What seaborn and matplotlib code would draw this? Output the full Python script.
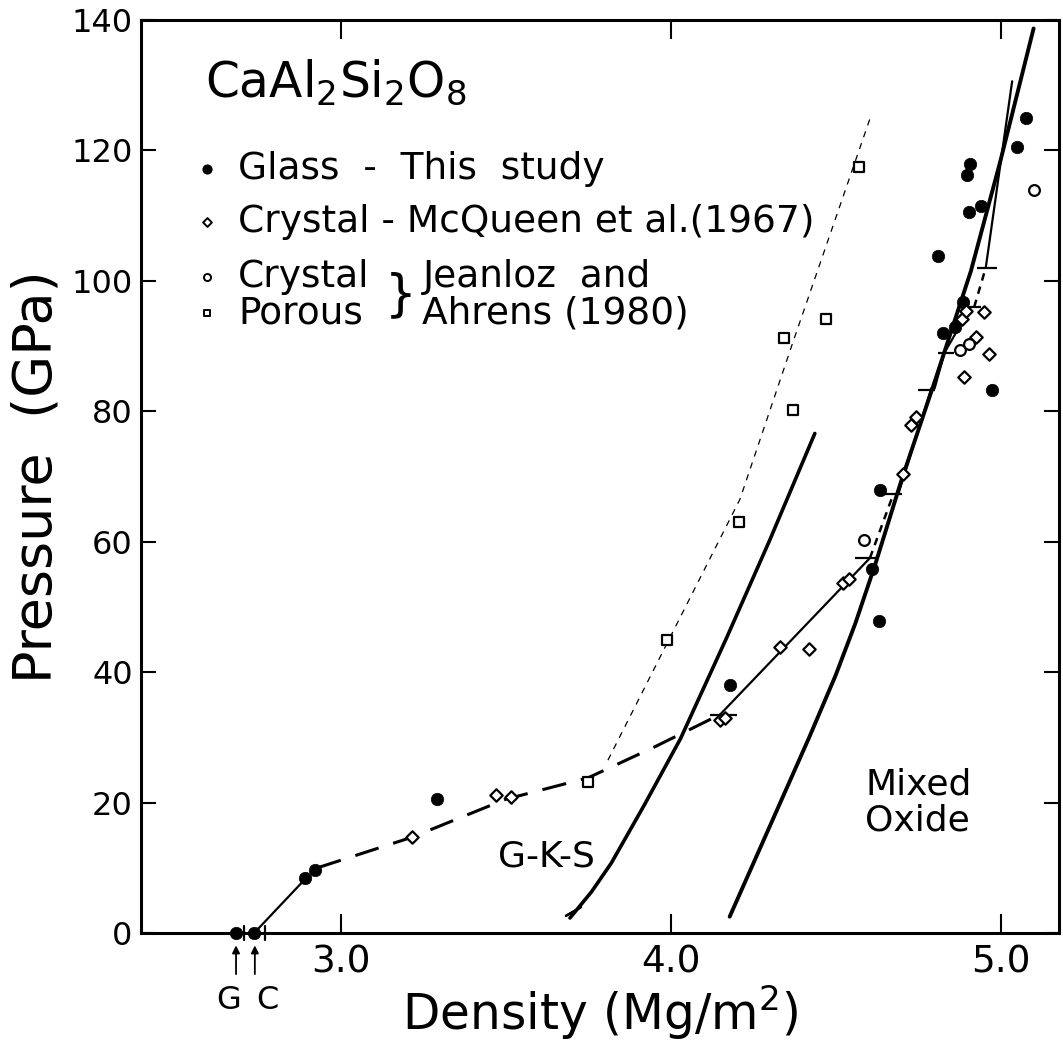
import numpy as np
import pandas as pd
import matplotlib
matplotlib.use("Agg")
import matplotlib.pyplot as plt
import seaborn as sns

# ---------------- data ----------------
glass_x = [2.683, 2.738, 2.893, 2.922, 3.291, 4.179, 4.609, 4.632, 4.634, 4.811,
           4.824, 4.861, 4.887, 4.897, 4.905, 4.907, 4.942, 4.973, 5.050, 5.077]
glass_p = [0.0, 0.0, 8.4, 9.6, 20.5, 38.1, 55.8, 47.8, 67.9, 103.8,
           92.0, 92.9, 96.7, 116.2, 110.6, 117.9, 111.5, 83.2, 120.6, 125.0]

mcq_x = [3.217, 3.472, 3.517, 4.149, 4.165, 4.333, 4.419, 4.523, 4.541, 4.705,
         4.728, 4.743, 4.884, 4.894, 4.950, 4.924, 4.964, 4.890]
mcq_p = [14.7, 21.1, 20.9, 32.7, 32.9, 43.8, 43.6, 53.7, 54.3, 70.4,
         77.9, 79.1, 94.2, 95.4, 95.3, 91.4, 88.8, 85.2]

ja_cryst_x = [4.587, 4.877, 4.905, 5.102]
ja_cryst_p = [60.3, 89.4, 90.3, 113.9]

porous_x = [3.749, 3.990, 4.208, 4.343, 4.372, 4.471, 4.570]
porous_p = [23.2, 45.0, 63.0, 91.2, 80.2, 94.1, 117.5]

# fitted / model curves
gks_x = [3.695, 3.76, 3.82, 3.92, 4.03, 4.17, 4.30, 4.437]
gks_p = [2.3, 6.3, 10.7, 19.6, 29.8, 45.3, 60.2, 76.6]

mixed_x = [4.179, 4.30, 4.42, 4.50, 4.56, 4.62, 4.70, 4.80, 4.91, 5.00, 5.10]
mixed_p = [2.5, 16.3, 30.0, 39.5, 47.5, 56.5, 69.5, 84.5, 101.5, 118.5, 138.7]

porous_line_x = [3.81, 4.04, 4.21, 4.37, 4.607]
porous_line_p = [26.5, 49.5, 66.5, 90.5, 125.3]

# crystal Hugoniot pieces
cr_low_x = [2.738, 2.893]
cr_low_p = [0.0, 8.3]
cr_dash_x = [2.93, 3.217, 3.50, 3.75, 3.95, 4.15]
cr_dash_p = [10.0, 14.7, 20.5, 23.8, 28.5, 33.5]
cr_solid_segments = [([4.15, 4.604], [33.5, 57.5]),
                     ([4.69, 4.79], [67.3, 83.5]),
                     ([4.80, 4.83], [83.5, 89.0]),
                     ([4.83, 4.91], [89.0, 96.0]),
                     ([4.955, 5.035], [102.0, 130.6])]
cr_dashed_segments = [([4.604, 4.675], [57.5, 67.3]),
                      ([4.92, 4.955], [96.0, 102.0])]
bar_p = [33.5, 57.5, 67.3, 83.3, 89.0, 96.0, 102.0]
bar_x0 = [4.12, 4.56, 4.65, 4.75, 4.81, 4.88, 4.93]
bar_x1 = [4.20, 4.63, 4.70, 4.80, 4.86, 4.94, 4.99]

# G and C reference densities
gc_x = [2.683, 2.740]
gc_labels = ["G", "C"]
gc_mark_x = [2.708, 2.771]

xticks = [3.0, 4.0, 5.0]
xtick_labels = ["3.0", "4.0", "5.0"]
yticks = [0, 20, 40, 60, 80, 100, 120, 140]

legend_labels = ["Glass  -  This  study", "Crystal - McQueen et al.(1967)",
                 "Crystal", "Porous"]

# ---------------- style ----------------
sns.set_theme(style="ticks")
plt.rcParams["font.family"] = ["DejaVu Sans"]
plt.rcParams["mathtext.default"] = "regular"
plt.rcParams["text.color"] = "black"
plt.rcParams["axes.labelcolor"] = "black"
plt.rcParams["xtick.color"] = "black"
plt.rcParams["ytick.color"] = "black"

fig = plt.figure(figsize=(10.63, 10.45), dpi=100)
ax = fig.add_axes([141 / 1063, 1 - 933 / 1045, (1059 - 141) / 1063, (933 - 20) / 1045])

K = "black"

# lines
sns.lineplot(x=gks_x, y=gks_p, sort=False, estimator=None, color=K, lw=2.6, ax=ax)
sns.lineplot(x=mixed_x, y=mixed_p, sort=False, estimator=None, color=K, lw=2.8, ax=ax)
sns.lineplot(x=porous_line_x, y=porous_line_p, sort=False, estimator=None, color=K,
             lw=0.9, linestyle=(0, (5, 5)), ax=ax)
sns.lineplot(x=cr_low_x, y=cr_low_p, sort=False, estimator=None, color=K, lw=1.6, ax=ax)
sns.lineplot(x=cr_dash_x, y=cr_dash_p, sort=False, estimator=None, color=K, lw=2.2,
             linestyle=(0, (8, 5)), ax=ax)
for sx, sp in cr_solid_segments:
    sns.lineplot(x=sx, y=sp, sort=False, estimator=None, color=K, lw=1.6, ax=ax)
for sx, sp in cr_dashed_segments:
    sns.lineplot(x=sx, y=sp, sort=False, estimator=None, color=K, lw=1.8,
                 linestyle=(0, (3, 2.5)), ax=ax)
ax.hlines(bar_p, bar_x0, bar_x1, colors=K, lw=1.6)

# cross mark at the foot of G-K-S
ax.scatter([gks_x[0] + 0.008], [gks_p[0] + 1.0], marker=(2, 2, -60), s=160,
           color=K, linewidths=1.6, zorder=4)

# data points
sns.scatterplot(x=glass_x, y=glass_p, marker="o", s=80, color=K, edgecolor=K,
                linewidth=0.5, ax=ax, zorder=5, clip_on=False)
sns.scatterplot(x=mcq_x, y=mcq_p, marker="D", s=40, color="white", edgecolor=K,
                linewidth=1.6, ax=ax, zorder=5)
sns.scatterplot(x=ja_cryst_x, y=ja_cryst_p, marker="o", s=60, color="white",
                edgecolor=K, linewidth=1.6, ax=ax, zorder=5)
sns.scatterplot(x=porous_x, y=porous_p, marker="s", s=55, color="white",
                edgecolor=K, linewidth=1.6, ax=ax, zorder=5)

# G / C marks on axis and arrows
for mx in gc_mark_x:
    ax.plot([mx, mx], [-1.1, 1.1], color=K, lw=1.6, clip_on=False, zorder=6)
for gx in gc_x:
    ax.annotate("", xy=(gx, -1.9), xytext=(gx, -6.3),
                arrowprops=dict(arrowstyle="-|>", lw=1.3, color=K, mutation_scale=11,
                                shrinkA=0, shrinkB=0),
                annotation_clip=False)
ax.text(2.662, -10.3, gc_labels[0], ha="center", va="center", fontsize=23, clip_on=False)
ax.text(2.777, -10.3, gc_labels[1], ha="center", va="center", fontsize=23, clip_on=False)

# axes styling
ax.set_xlim(2.395, 5.177)
ax.set_ylim(0, 140)
ax.set_xticks(xticks)
ax.set_xticklabels(xtick_labels)
ax.set_yticks(yticks)
ax.tick_params(axis="x", direction="in", length=14, width=1.5, top=True,
               labelsize=27, pad=8, colors=K)
ax.tick_params(axis="y", direction="in", length=11, width=1.5, right=True,
               labelsize=23, pad=6, colors=K)
for sp in ax.spines.values():
    sp.set_linewidth(2.2)
    sp.set_color(K)
    sp.set_visible(True)
ax.set_xlabel("Density (Mg/m$^2$)", fontsize=35, labelpad=2)
ax.set_ylabel("Pressure  (GPa)", fontsize=39, labelpad=6)
ax.grid(False)
ax.set_facecolor("white")

# annotations
ax.text(2.588, 130.4, "CaAl$_2$Si$_2$O$_8$", fontsize=35, ha="left", va="center")
ax.text(3.625, 11.7, "G-K-S", fontsize=26, ha="center", va="center")
ax.text(4.59, 20.0, "Mixed\nOxide", fontsize=26, ha="left", va="center", linespacing=1.05)

# hand-drawn style legend
leg_x = 2.596
txt_x = 2.69
rows_p = [117.2, 109.0, 100.6, 95.0]
ax.scatter([leg_x], [rows_p[0]], marker="o", s=40, color=K, zorder=6)
ax.scatter([leg_x], [rows_p[1]], marker="D", s=20, facecolor="white", edgecolor=K,
           linewidths=1.4, zorder=6)
ax.scatter([leg_x], [rows_p[2]], marker="o", s=26, facecolor="white", edgecolor=K,
           linewidths=1.4, zorder=6)
ax.scatter([leg_x], [rows_p[3]], marker="s", s=24, facecolor="white", edgecolor=K,
           linewidths=1.4, zorder=6)
for p, lab in zip(rows_p, legend_labels):
    ax.text(txt_x, p, lab, fontsize=27, ha="left", va="center")
ax.text(3.135, 97.8, "}", fontsize=36, ha="left", va="center")
ax.text(3.248, rows_p[2], "Jeanloz  and", fontsize=27, ha="left", va="center")
ax.text(3.248, rows_p[3], "Ahrens (1980)", fontsize=27, ha="left", va="center")

fig.savefig("out.png", dpi=100, facecolor="white")
